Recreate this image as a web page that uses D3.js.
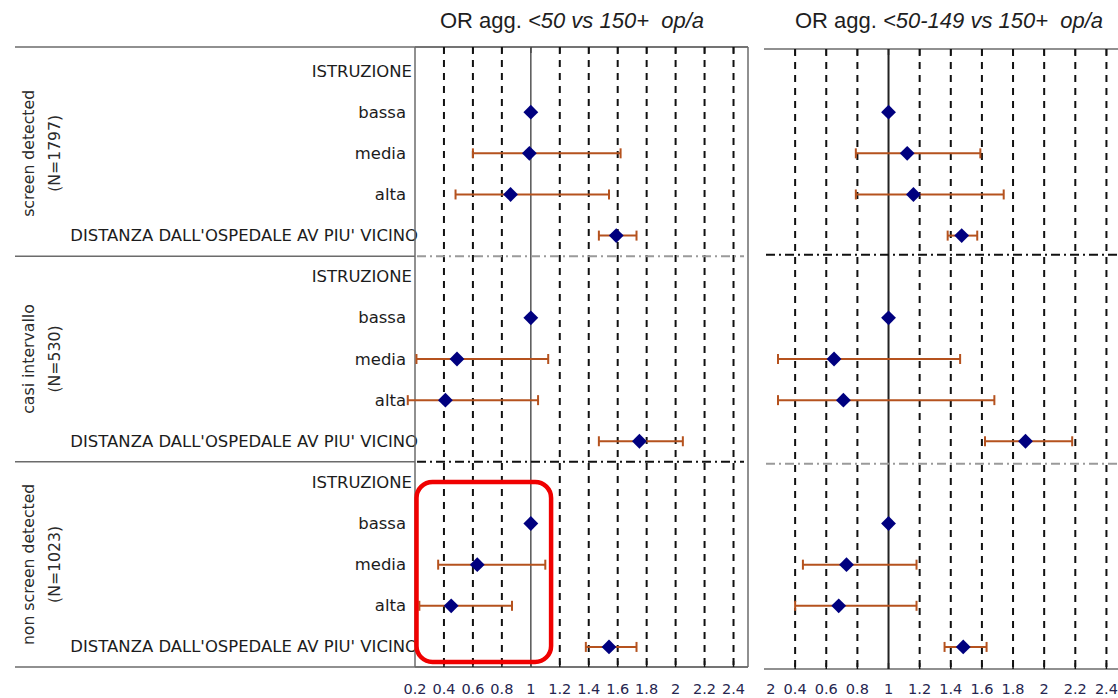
<!DOCTYPE html>
<html>
<head>
<meta charset="utf-8">
<script src="https://cdn.jsdelivr.net/npm/d3@7"></script>
<style>
  html, body { margin: 0; padding: 0; background: #fff; }
  svg { display: block; }
  .title { white-space: pre; }
</style>
</head>
<body>
<svg id="chart" width="1118" height="698"></svg>
<script>
// ---------------- DATA ----------------
const groups = ["screen detected", "casi intervallo", "non screen detected"];
const groupN = ["(N=1797)", "(N=530)", "(N=1023)"];
const rowLabels = ["ISTRUZIONE", "bassa", "media", "alta", "DISTANZA DALL'OSPEDALE AV PIU' VICINO"];
const tickValues = [0.2, 0.4, 0.6, 0.8, 1, 1.2, 1.4, 1.6, 1.8, 2, 2.2, 2.4];
const tickLabels = ["0.2", "0.4", "0.6", "0.8", "1", "1.2", "1.4", "1.6", "1.8", "2", "2.2", "2.4"];

// Panel 1: OR agg. <50 vs 150+ op/a  (15 rows: 3 groups x 5 rows)
const orLeft = [null, 1, 0.99, 0.86, 1.59,  null, 1, 0.49, 0.41, 1.75,  null, 1, 0.63, 0.45, 1.54];
const loLeft = [null, null, 0.60, 0.48, 1.47,  null, null, 0.21, 0.15, 1.47,  null, null, 0.36, 0.23, 1.38];
const hiLeft = [null, null, 1.62, 1.54, 1.73,  null, null, 1.12, 1.05, 2.05,  null, null, 1.10, 0.87, 1.73];

// Panel 2: OR agg. <50-149 vs 150+ op/a
const orRight = [null, 1, 1.12, 1.16, 1.47,  null, 1, 0.65, 0.71, 1.88,  null, 1, 0.73, 0.68, 1.48];
const loRight = [null, null, 0.79, 0.79, 1.38,  null, null, 0.29, 0.29, 1.62,  null, null, 0.45, 0.40, 1.36];
const hiRight = [null, null, 1.59, 1.74, 1.57,  null, null, 1.46, 1.68, 2.18,  null, null, 1.18, 1.18, 1.63];

// ---------------- LAYOUT ----------------
const svg = d3.select("#chart");
const rows = d3.range(groups.length * rowLabels.length);
const y = d3.scaleBand().domain(rows).range([50.5, 667.5]).padding(0);
const yc = i => y(i) + y.bandwidth() / 2;

const xL = d3.scaleLinear().domain([0.2, 2.5]).range([415, 748]);
const xR = d3.scaleLinear().domain([0.2, 2.5]).range([764, 1122]);

const panels = [
  { x: xL, or: orLeft, lo: loLeft, hi: hiLeft, top: 47, bot: 667,
    sep: ["#9a9a9a", "#111"], title: ["OR agg. ", "<50 vs 150+", "  op/a"], titleX: 572, border: true },
  { x: xR, or: orRight, lo: loRight, hi: hiRight, top: 49, bot: 669,
    sep: ["#111", "#9a9a9a"], title: ["OR agg. ", "<50-149 vs 150+", "  op/a"], titleX: 949, border: false }
];

const ciColor = "#B5521E";
const mkColor = "#00007F";
const frameColor = "#6b6b6b";

// clip for right panel tick labels
svg.append("defs").append("clipPath").attr("id", "clipR")
  .append("rect").attr("x", 766).attr("y", 0).attr("width", 400).attr("height", 698);

// ---------------- LABEL AREA ----------------
const boundaries = [y(0) - 3.5, y(5), y(10), y(14) + y.bandwidth() - 0.5];
const labelG = svg.append("g");
labelG.append("line").attr("x1", 15).attr("x2", xL.range()[1])
  .attr("y1", 47).attr("y2", 47).attr("stroke", frameColor).attr("stroke-width", 1.5);
labelG.append("line").attr("x1", 15).attr("x2", xL.range()[1])
  .attr("y1", 667).attr("y2", 667).attr("stroke", frameColor).attr("stroke-width", 1.5);
[boundaries[1], boundaries[2]].forEach(b => {
  labelG.append("line").attr("x1", 15).attr("x2", xL.range()[0])
    .attr("y1", b).attr("y2", b).attr("stroke", frameColor).attr("stroke-width", 1.5);
});

// row labels
const rowFont = "'DejaVu Sans', Verdana, sans-serif";
const rl = labelG.selectAll("text.row").data(rows).join("text")
  .attr("class", "row")
  .attr("font-family", rowFont)
  .attr("fill", "#1c1c1c")
  .attr("text-anchor", "end")
  .attr("dominant-baseline", "central")
  .attr("x", i => {
    const k = i % rowLabels.length;
    if (k === 0) return 412;
    if (k === 4) return 418;
    return 406;
  })
  .attr("y", i => yc(i))
  .text(i => rowLabels[i % rowLabels.length]);
rl.attr("font-size", 16);
const longNode = rl.filter(i => i === 4).node();
const fs = 16 * 348 / longNode.getComputedTextLength();
rl.attr("font-size", fs);

// group labels (rotated)
groups.forEach((g, gi) => {
  const cy = (boundaries[gi] + (gi === 0 ? 3.5 : 0) + boundaries[gi + 1]) / 2;
  labelG.append("text").attr("class", "grp")
    .attr("transform", `translate(28,${cy}) rotate(-90)`)
    .attr("text-anchor", "middle").attr("dominant-baseline", "central")
    .attr("font-family", rowFont).attr("fill", "#2a2a2a")
    .attr("font-size", 15).text(g);
  labelG.append("text").attr("class", "grp")
    .attr("transform", `translate(54,${cy}) rotate(-90)`)
    .attr("text-anchor", "middle").attr("dominant-baseline", "central")
    .attr("font-family", rowFont).attr("fill", "#2a2a2a")
    .attr("font-size", 15).text(groupN[gi]);
});
(function () {
  const texts = labelG.selectAll("text.grp");
  const first = texts.filter(function () { return this.textContent === groups[0]; }).node();
  const s = 15 * 127 / first.getComputedTextLength();
  texts.attr("font-size", s);
})();

// ---------------- PANELS ----------------
panels.forEach((p, pi) => {
  const g = svg.append("g");
  const [x0, x1] = p.x.range();
  const right = Math.min(x1, 1118);

  // title
  const t = g.append("text").attr("class", "title")
    .attr("x", p.titleX).attr("y", 28)
    .attr("text-anchor", "middle")
    .attr("font-family", "'Liberation Sans', Arial, sans-serif")
    .attr("font-size", 22).attr("fill", "#1e1e1e");
  t.append("tspan").text(p.title[0]);
  t.append("tspan").attr("font-style", "italic").text(p.title[1]);
  t.append("tspan").attr("font-style", "italic").text(p.title[2]);

  // frame lines
  g.append("line").attr("x1", x0).attr("x2", right).attr("y1", p.top).attr("y2", p.top)
    .attr("stroke", frameColor).attr("stroke-width", 1.5);
  g.append("line").attr("x1", x0).attr("x2", right).attr("y1", p.bot).attr("y2", p.bot)
    .attr("stroke", frameColor).attr("stroke-width", 1.5);
  if (p.border) {
    g.append("line").attr("x1", x0).attr("x2", x0).attr("y1", p.top).attr("y2", p.bot)
      .attr("stroke", frameColor).attr("stroke-width", 1.5);
    g.append("line").attr("x1", x1).attr("x2", x1).attr("y1", p.top).attr("y2", p.bot)
      .attr("stroke", frameColor).attr("stroke-width", 1.5);
  }

  // ticks
  const inner = tickValues.filter(v => v > 0.2);
  g.selectAll("line.tkT").data(inner).join("line").attr("class", "tkT")
    .attr("x1", d => p.x(d)).attr("x2", d => p.x(d))
    .attr("y1", p.top).attr("y2", p.top + 6).attr("stroke", "#111").attr("stroke-width", 1.5);
  g.selectAll("line.tkB").data(inner).join("line").attr("class", "tkB")
    .attr("x1", d => p.x(d)).attr("x2", d => p.x(d))
    .attr("y1", p.bot - 6).attr("y2", p.bot).attr("stroke", "#111").attr("stroke-width", 1.5);

  // dashed gridlines
  g.selectAll("line.grid").data(inner.filter(v => v !== 1)).join("line").attr("class", "grid")
    .attr("x1", d => p.x(d)).attr("x2", d => p.x(d))
    .attr("y1", p.top).attr("y2", p.bot)
    .attr("stroke", "#111").attr("stroke-width", 2)
    .attr("stroke-dasharray", "7,6");
  // reference line at 1
  g.append("line").attr("x1", p.x(1)).attr("x2", p.x(1))
    .attr("y1", p.top).attr("y2", p.bot)
    .attr("stroke", pi === 0 ? "#555" : "#222").attr("stroke-width", pi === 0 ? 1.5 : 2);

  // group separators (dash-dot)
  [boundaries[1], boundaries[2]].forEach((b, bi) => {
    const yy = b + (pi === 1 ? (bi === 0 ? -1.5 : 2) : 0);
    g.append("line").attr("x1", x0 + 2).attr("x2", pi === 0 ? x1 - 4 : right)
      .attr("y1", yy).attr("y2", yy)
      .attr("stroke", p.sep[bi]).attr("stroke-width", 2)
      .attr("stroke-dasharray", "9,4,2,4");
  });

  // tick labels
  const lab = g.append("g");
  if (pi === 1) lab.attr("clip-path", "url(#clipR)");
  lab.selectAll("text").data(tickValues).join("text")
    .attr("x", d => p.x(d)).attr("y", 694)
    .attr("text-anchor", "middle")
    .attr("font-family", rowFont).attr("font-size", 14.5)
    .attr("fill", "#262650")
    .text((d, i) => tickLabels[i]);

  // CI bars
  const ciRows = rows.filter(i => p.lo[i] != null);
  const ci = g.selectAll("g.ci").data(ciRows).join("g").attr("class", "ci");
  ci.append("line")
    .attr("x1", i => p.x(p.lo[i])).attr("x2", i => p.x(p.hi[i]))
    .attr("y1", i => yc(i)).attr("y2", i => yc(i))
    .attr("stroke", ciColor).attr("stroke-width", 2);
  ci.append("line")
    .attr("x1", i => p.x(p.lo[i])).attr("x2", i => p.x(p.lo[i]))
    .attr("y1", i => yc(i) - 5).attr("y2", i => yc(i) + 5)
    .attr("stroke", ciColor).attr("stroke-width", 2);
  ci.append("line")
    .attr("x1", i => p.x(p.hi[i])).attr("x2", i => p.x(p.hi[i]))
    .attr("y1", i => yc(i) - 5).attr("y2", i => yc(i) + 5)
    .attr("stroke", ciColor).attr("stroke-width", 2);

  // diamonds
  const sym = d3.symbol(d3.symbolSquare, 110);
  g.selectAll("path.mk").data(rows.filter(i => p.or[i] != null)).join("path")
    .attr("class", "mk")
    .attr("d", sym)
    .attr("transform", i => `translate(${p.x(p.or[i])},${yc(i)}) rotate(45)`)
    .attr("fill", mkColor);
});

// ---------------- ANNOTATION (red rounded box) ----------------
svg.append("rect")
  .attr("x", xL(0.2) + 1.5)
  .attr("y", yc(10) - 0.5)
  .attr("width", xL(1.14) - xL(0.2) - 1.5)
  .attr("height", yc(14) + 15 - (yc(10) - 0.5))
  .attr("rx", 16).attr("ry", 16)
  .attr("fill", "none").attr("stroke", "#F00000").attr("stroke-width", 4.5);
</script>
</body>
</html>
